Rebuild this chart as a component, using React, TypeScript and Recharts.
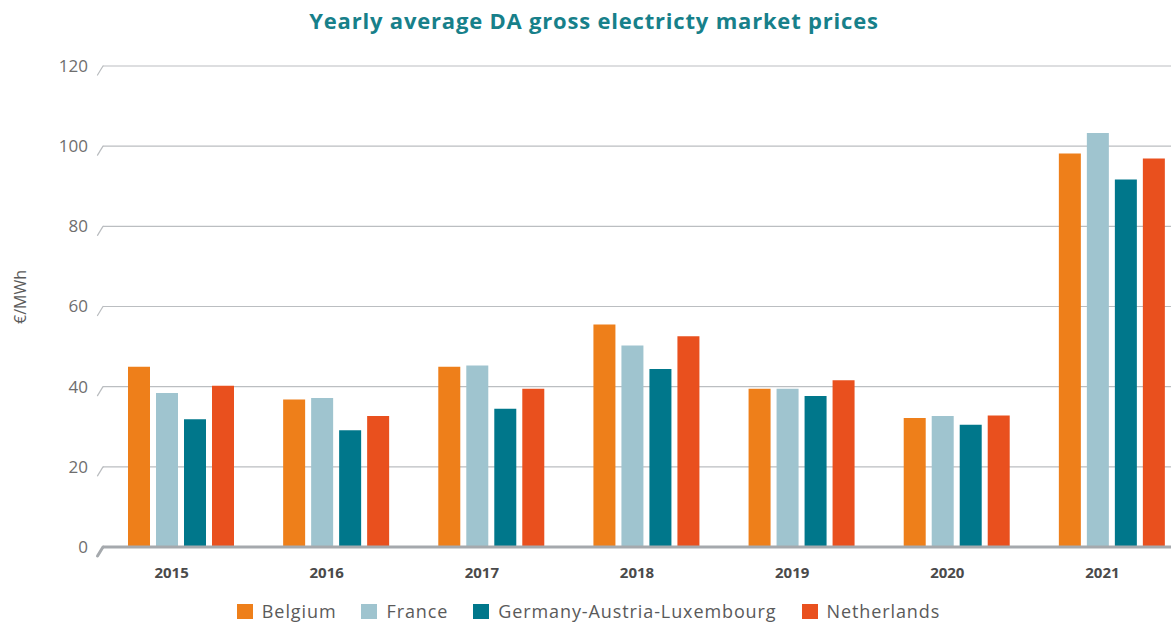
import React from 'react';
import { BarChart, Bar, XAxis, YAxis, CartesianGrid } from 'recharts';

const years = ['2015', '2016', '2017', '2018', '2019', '2020', '2021'];
const belgium = [45.0, 36.8, 45.0, 55.5, 39.5, 32.2, 98.2];
const france = [38.4, 37.2, 45.3, 50.3, 39.5, 32.7, 103.3];
const germany = [31.9, 29.1, 34.5, 44.4, 37.7, 30.5, 91.7];
const netherlands = [40.2, 32.7, 39.5, 52.6, 41.6, 32.8, 96.9];
const yTicks = [0, 20, 40, 60, 80, 100, 120];

const series = [
  { key: 'belgium', name: 'Belgium', color: '#ee7f1a' },
  { key: 'france', name: 'France', color: '#9fc4cf' },
  { key: 'germany', name: 'Germany-Austria-Luxembourg', color: '#00778b' },
  { key: 'netherlands', name: 'Netherlands', color: '#e9501e' },
];

const data = years.map((y, i) => ({
  year: y,
  belgium: belgium[i],
  france: france[i],
  germany: germany[i],
  netherlands: netherlands[i],
}));

const FONT = "'Open Sans', 'Noto Sans', sans-serif";

const YTick = (props: any) => {
  const { x, y, payload } = props;
  const isZero = payload.value === 0;
  return (
    <g>
      <text x={x - 7} y={y} dy="0.35em" textAnchor="end" fontFamily={FONT} fontSize={17} fill="#6e6e6e">
        {payload.value}
      </text>
      <line
        x1={x + 2.5}
        y1={y + 9}
        x2={x + 8}
        y2={y}
        stroke={isZero ? '#a5a9ad' : '#b9bcbf'}
        strokeWidth={isZero ? 3 : 1.2}
        strokeLinecap="round"
      />
    </g>
  );
};

export default function App() {
  return (
    <div style={{ position: 'fixed', left: 0, top: 0, width: 1171, height: 629, overflow: 'hidden', background: '#fff' }}>
      <div
        style={{
          position: 'absolute',
          left: 0,
          top: 5,
          width: 1188,
          textAlign: 'center',
          fontFamily: FONT,
          fontWeight: 700,
          fontSize: 22,
          letterSpacing: 0.8,
          color: '#17808a',
        }}
      >
        Yearly average DA gross electricty market prices
      </div>
      <div style={{ position: 'absolute', left: 0, top: 0 }}>
        <BarChart
          width={1200}
          height={629}
          data={data}
          margin={{ top: 66, right: 11, bottom: 42, left: 0 }}
          barSize={22}
          barGap={6}
        >
          <CartesianGrid horizontal={true} vertical={false} stroke="#bbbec1" strokeWidth={1.2} />
          <XAxis
            dataKey="year"
            height={40}
            axisLine={{ stroke: '#a5a9ad', strokeWidth: 3 }}
            tickLine={false}
            tick={{ fontFamily: FONT, fontSize: 15, fontWeight: 700, fill: '#4a4a4a', dy: 12, dx: -9 }}
          />
          <YAxis
            width={103}
            domain={[0, 120]}
            ticks={yTicks}
            axisLine={false}
            tickLine={false}
            tick={<YTick />}
            label={{
              value: '€/MWh',
              content: () => (
                <text
                  transform="translate(26,297) rotate(-90)"
                  textAnchor="middle"
                  fontFamily={FONT}
                  fontSize={16}
                  fill="#5a5a5a"
                >
                  €/MWh
                </text>
              ),
            }}
          />
          {series.map((s) => (
            <Bar key={s.key} dataKey={s.key} name={s.name} fill={s.color} isAnimationActive={false} />
          ))}
        </BarChart>
      </div>
      <div
        style={{
          position: 'absolute',
          left: 0,
          top: 599,
          width: 1177,
          display: 'flex',
          justifyContent: 'center',
          alignItems: 'center',
          fontFamily: FONT,
          fontSize: 18,
          letterSpacing: 0.9,
          color: '#5a5a5a',
        }}
      >
        {series.map((s, i) => (
          <div key={s.key} style={{ display: 'flex', alignItems: 'center', marginRight: i < series.length - 1 ? 25 : 0 }}>
            <span style={{ display: 'inline-block', width: 16, height: 15, background: s.color, marginRight: 9 }} />
            <span>{s.name}</span>
          </div>
        ))}
      </div>
    </div>
  );
}
